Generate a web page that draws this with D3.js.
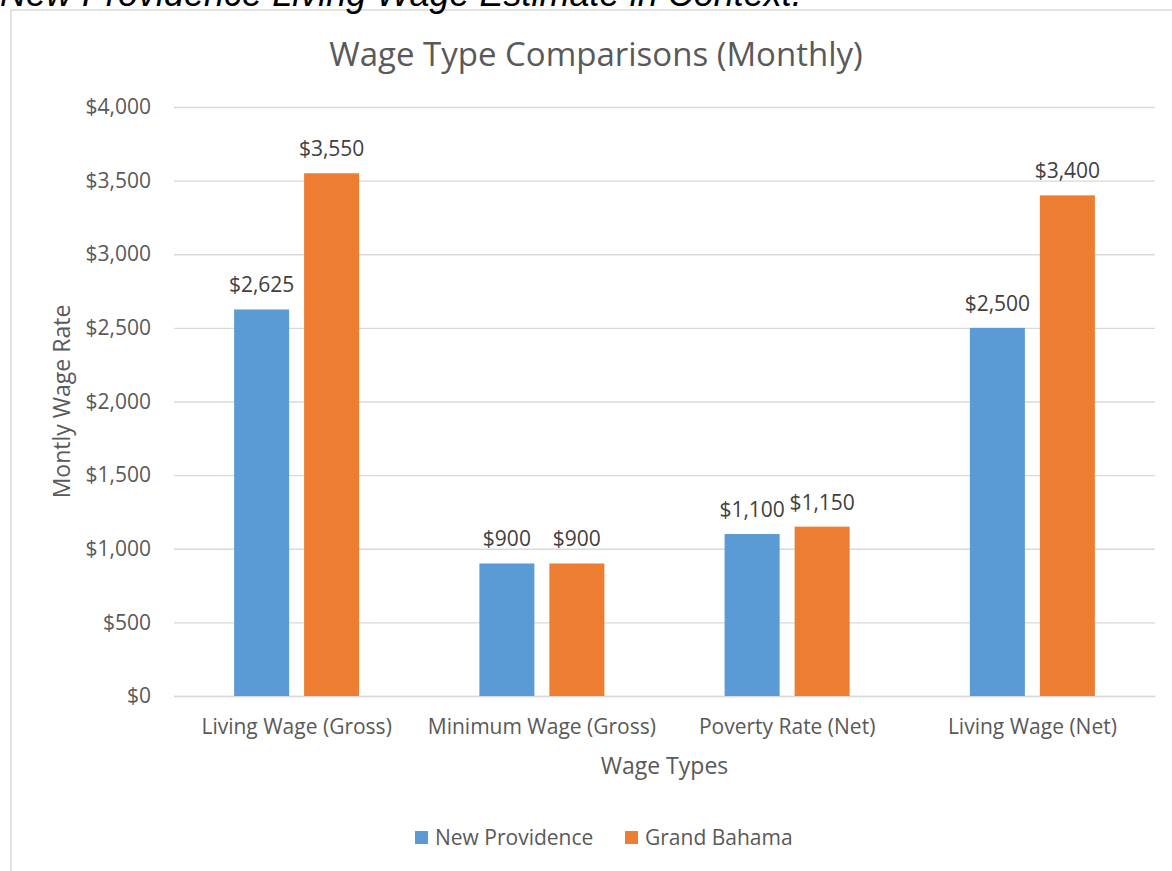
<!DOCTYPE html>
<html>
<head>
<meta charset="utf-8">
<script src="https://cdn.jsdelivr.net/npm/d3@7"></script>
<style>
  body { margin: 0; background: #fff; }
  svg text { font-family: "Open Sans", sans-serif; fill: #595959; }
</style>
</head>
<body>
<script>
// donnees du graphique
var categories = ["Living Wage (Gross)", "Minimum Wage (Gross)", "Poverty Rate (Net)", "Living Wage (Net)"];
var series = ["New Providence", "Grand Bahama"];
var newProvidence = [2625, 900, 1100, 2500];
var grandBahama = [3550, 900, 1150, 3400];
var yTicks = [0, 500, 1000, 1500, 2000, 2500, 3000, 3500, 4000];
var colors = ["#5B9BD5", "#ED7D31"];

function drawChart()
{
  var width = 1172, height = 871;

  var svg = d3.select("body").append("svg")
    .attr("width", width)
    .attr("height", height);

  // cadre du graphique
  svg.append("rect")
    .attr("x", 11).attr("y", 10)
    .attr("width", 1200).attr("height", 900)
    .attr("fill", "none")
    .attr("stroke", "#d9d9d9")
    .attr("stroke-width", 1.5);

  // titre coupe en haut (document)
  svg.append("text")
    .attr("x", 0).attr("y", 6)
    .style("font-family", "'Liberation Sans', Arial, sans-serif")
    .style("font-style", "italic")
    .style("font-size", "36px")
    .style("fill", "#000")
    .text("New Providence Living Wage Estimate in Context.");

  var pl = 174, pr = 1155, pt = 107, pb = 696;

  var y = d3.scaleLinear().domain([0, 4000]).range([pb, pt]);
  var x0 = d3.scaleBand().domain(categories).range([pl, pr]).padding(0);
  var x1 = d3.scaleBand().domain(series).range([0, x0.bandwidth()])
    .paddingInner(0.214).paddingOuter(0.859);

  // grille + axe y
  var yAxis = d3.axisLeft(y)
    .tickValues(yTicks)
    .tickSize(-(pr - pl))
    .tickPadding(23)
    .tickFormat(function(d) { return "$" + d3.format(",")(d); });

  var gy = svg.append("g")
    .attr("transform", "translate(" + pl + ",0)")
    .call(yAxis);
  gy.select(".domain").remove();
  gy.selectAll(".tick line").attr("stroke", "#d9d9d9").attr("stroke-width", 1.3);
  gy.selectAll(".tick text").style("font-size", "21px").style("fill", "#595959");

  // axe x
  var gx = svg.append("g")
    .attr("transform", "translate(0," + pb + ")")
    .call(d3.axisBottom(x0).tickSize(0).tickPadding(23));
  gx.select(".domain").attr("stroke", "#d9d9d9").attr("stroke-width", 1.5);
  gx.selectAll(".tick text").style("font-size", "21px").style("fill", "#595959");

  // barres
  var rows = categories.map(function(c, i) {
    return { cat: c, vals: [newProvidence[i], grandBahama[i]] };
  });

  var groups = svg.selectAll(".grp")
    .data(rows).enter().append("g")
    .attr("class", "grp")
    .attr("transform", function(d) { return "translate(" + x0(d.cat) + ",0)"; });

  function cells(d) {
    return d.vals.map(function(v, j) { return { s: series[j], v: v, j: j }; });
  }

  groups.selectAll("rect")
    .data(cells)
    .enter().append("rect")
    .attr("x", function(d) { return x1(d.s); })
    .attr("y", function(d) { return y(d.v); })
    .attr("width", x1.bandwidth())
    .attr("height", function(d) { return pb - y(d.v); })
    .attr("fill", function(d) { return colors[d.j]; });

  groups.selectAll(".lbl")
    .data(cells)
    .enter().append("text")
    .attr("class", "lbl")
    .attr("x", function(d) { return x1(d.s) + x1.bandwidth() / 2; })
    .attr("y", function(d) { return y(d.v) - 17; })
    .attr("text-anchor", "middle")
    .style("font-size", "21px")
    .style("fill", "#404040")
    .text(function(d) { return "$" + d3.format(",")(d.v); });

  // titres
  svg.append("text")
    .attr("x", 596).attr("y", 66)
    .attr("text-anchor", "middle")
    .style("font-size", "33px")
    .text("Wage Type Comparisons (Monthly)");

  svg.append("text")
    .attr("x", (pl + pr) / 2).attr("y", 774)
    .attr("text-anchor", "middle")
    .style("font-size", "23px")
    .text("Wage Types");

  svg.append("text")
    .attr("transform", "translate(70," + ((pt + pb) / 2) + ") rotate(-90)")
    .attr("text-anchor", "middle")
    .style("font-size", "23px")
    .text("Montly Wage Rate");

  // legende
  var legend = svg.append("g").attr("transform", "translate(415,831)");
  var lx = [0, 210];
  series.forEach(function(s, i) {
    legend.append("rect")
      .attr("x", lx[i]).attr("y", 0)
      .attr("width", 13).attr("height", 13)
      .attr("fill", colors[i]);
    legend.append("text")
      .attr("x", lx[i] + 20).attr("y", 14)
      .style("font-size", "21px")
      .text(s);
  });
}

drawChart();
</script>
</body>
</html>
